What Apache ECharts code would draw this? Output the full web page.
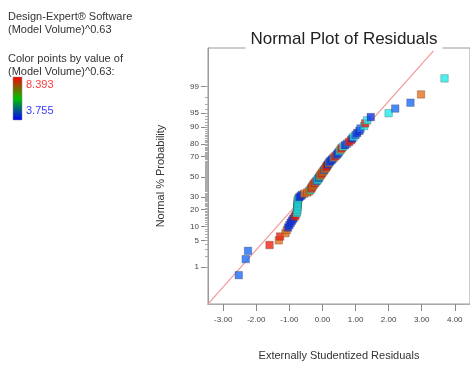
<!DOCTYPE html>
<html lang="en">
<head>
  <meta charset="UTF-8">
  <title>Normal Plot of Residuals</title>
  <style>
    html, body { margin: 0; padding: 0; background: #fff; }
    #chart { width: 470px; height: 366px; }
  </style>
</head>
<body>
  <div id="chart"></div>
  <script src="https://cdn.jsdelivr.net/npm/echarts@6/dist/echarts.min.js"></script>
  <script>
  // externally studentized residuals, sorted
  var resid = [
    -2.53, -2.32, -2.25, -1.60, -1.32, -1.28, -1.12, -1.08, -1.04, -1.00,
    -0.96, -0.92, -0.88, -0.84, -0.81, -0.78, -0.77, -0.76, -0.76, -0.76,
    -0.75, -0.75, -0.75, -0.75, -0.74, -0.73, -0.70, -0.66, -0.62, -0.55,
    -0.46, -0.41, -0.37, -0.35, -0.33, -0.31, -0.29, -0.27, -0.24, -0.21,
    -0.18, -0.15, -0.13, -0.11, -0.09, -0.07, -0.05, -0.02, 0.00, 0.03,
    0.05, 0.07, 0.10, 0.12, 0.14, 0.16, 0.19, 0.21, 0.24, 0.28,
    0.31, 0.35, 0.39, 0.43, 0.46, 0.49, 0.52, 0.55, 0.58, 0.62,
    0.68, 0.74, 0.80, 0.86, 0.90, 0.94, 1.00, 1.05, 1.12, 1.15,
    1.26, 1.29, 1.35, 1.46, 2.00, 2.20, 2.66, 2.98, 3.69
  ];
  // normal % probability of each point
  var prob = [
    0.56, 1.69, 2.81, 3.93, 5.06, 6.18, 7.30, 8.43, 9.55, 10.67,
    11.80, 12.92, 14.04, 15.17, 16.29, 17.42, 18.54, 19.66, 20.79, 21.91,
    23.03, 24.16, 25.28, 26.40, 27.53, 28.65, 29.78, 30.90, 32.02, 33.15,
    34.27, 35.39, 36.52, 37.64, 38.76, 39.89, 41.01, 42.13, 43.26, 44.38,
    45.51, 46.63, 47.75, 48.88, 50.00, 51.12, 52.25, 53.37, 54.49, 55.62,
    56.74, 57.87, 58.99, 60.11, 61.24, 62.36, 63.48, 64.61, 65.73, 66.85,
    67.98, 69.10, 70.22, 71.35, 72.47, 73.60, 74.72, 75.84, 76.97, 78.09,
    79.21, 80.34, 81.46, 82.58, 83.71, 84.83, 85.96, 87.08, 88.20, 89.33,
    90.45, 91.57, 92.70, 93.82, 94.94, 96.07, 97.19, 98.31, 99.44
  ];
  // colour group of each point (B dark blue, b blue, c cyan, o orange, r red)
  var grp = [
    'b', 'b', 'b', 'r', 'o', 'r', 'o', 'o', 'B', 'B',
    'B', 'B', 'B', 'r', 'r', 'c', 'c', 'c', 'c', 'c',
    'c', 'c', 'c', 'c', 'c', 'c', 'B', 'B', 'B', 'o',
    'o', 'o', 'c', 'o', 'r', 'o', 'o', 'o', 'r', 'o',
    'b', 'c', 'c', 'B', 'c', 'o', 'o', 'r', 'o', 'o',
    'b', 'o', 'o', 'r', 'r', 'B', 'o', 'b', 'B', 'B',
    'b', 'o', 'r', 'b', 'B', 'b', 'c', 'o', 'r', 'c',
    'B', 'b', 'r', 'r', 'B', 'c', 'b', 'B', 'B', 'b',
    'c', 'r', 'c', 'B', 'c', 'b', 'b', 'o', 'c'
  ];
  // reference line end points
  var lineRes = [-3.6, 3.6];
  var lineProb = [0.032, 99.975];
  // axis labels
  var xTicks = [-3, -2, -1, 0, 1, 2, 3, 4];
  var yLabels = [1, 5, 10, 20, 30, 50, 70, 80, 90, 95, 99];
  var yMinor = [];
  for (var k = 1; k <= 99; k++) yMinor.push(k);

  var palette = { B: '#1236e6', b: '#1f6cf6', c: '#22eaea', o: '#e6701a', r: '#f22214' };

  // inverse normal cdf (Acklam)
  function probit(p) {
    var a = [-3.969683028665376e+01, 2.209460984245205e+02, -2.759285104469687e+02, 1.383577518672690e+02, -3.066479806614716e+01, 2.506628277459239e+00];
    var b = [-5.447609879822406e+01, 1.615858368580409e+02, -1.556989798598866e+02, 6.680131188771972e+01, -1.328068155288572e+01];
    var c = [-7.784894002430293e-03, -3.223964580411365e-01, -2.400758276684180e+00, -2.549732539343734e+00, 4.374664141464968e+00, 2.938163982698783e+00];
    var d = [7.784695709041462e-03, 3.224671290700398e-01, 2.445134137142996e+00, 3.754408661907416e+00];
    var plow = 0.02425, q, r;
    if (p < plow) {
      q = Math.sqrt(-2 * Math.log(p));
      return (((((c[0]*q+c[1])*q+c[2])*q+c[3])*q+c[4])*q+c[5]) / ((((d[0]*q+d[1])*q+d[2])*q+d[3])*q+1);
    }
    if (p <= 1 - plow) {
      q = p - 0.5; r = q * q;
      return (((((a[0]*r+a[1])*r+a[2])*r+a[3])*r+a[4])*r+a[5])*q / (((((b[0]*r+b[1])*r+b[2])*r+b[3])*r+b[4])*r+1);
    }
    q = Math.sqrt(-2 * Math.log(1 - p));
    return -(((((c[0]*q+c[1])*q+c[2])*q+c[3])*q+c[4])*q+c[5]) / ((((d[0]*q+d[1])*q+d[2])*q+d[3])*q+1);
  }
  function z(pct) { return probit(pct / 100); }

  var points = resid.map(function (x, i) {
    return { value: [x, z(prob[i])], itemStyle: { color: palette[grp[i]] } };
  });
  var refLine = lineRes.map(function (x, i) { return [x, z(lineProb[i])]; });

  var font = 'Liberation Sans';
  var txt = '#333';
  var chart = echarts.init(document.getElementById('chart'));
  chart.setOption({
    animation: false,
    title: {
      text: 'Normal Plot of Residuals',
      left: 339, top: 31, textAlign: 'center',
      backgroundColor: '#fff',
      padding: [0, 5, 3, 5],
      textStyle: { fontFamily: font, fontSize: 17, fontWeight: 'normal', color: '#222' }
    },
    grid: {
      left: 208, right: -2, top: 48, bottom: 58,
      show: true, borderColor: '#9a9a9a', borderWidth: 1
    },
    xAxis: {
      type: 'value', min: -3.46, max: 4.46,
      splitLine: { show: false },
      axisLine: { onZero: false, lineStyle: { color: '#aaa' } },
      axisTick: { customValues: xTicks, length: 7, lineStyle: { color: '#888' } },
      axisLabel: {
        customValues: xTicks, margin: 12,
        fontFamily: font, fontSize: 8, color: '#444',
        formatter: function (v) { return v.toFixed(2); }
      },
      name: 'Externally Studentized Residuals',
      nameLocation: 'middle', nameGap: 46,
      nameTextStyle: { fontFamily: font, fontSize: 11, color: txt }
    },
    yAxis: [{
      type: 'value', min: -3.28, max: 3.32,
      splitLine: { show: false },
      axisLine: { onZero: false, lineStyle: { color: '#9a9a9a' } },
      axisTick: { customValues: yLabels.map(z), length: 7, lineStyle: { color: '#888' } },
      axisLabel: {
        customValues: yLabels.map(z), margin: 9,
        fontFamily: font, fontSize: 8, color: '#444',
        formatter: function (v) {
          for (var i = 0; i < yLabels.length; i++) {
            if (Math.abs(z(yLabels[i]) - v) < 1e-6) return String(yLabels[i]);
          }
          return '';
        }
      },
      name: 'Normal % Probability',
      nameLocation: 'middle', nameGap: 42,
      nameTextStyle: { fontFamily: font, fontSize: 11, color: txt }
    }, {
      type: 'value', min: -3.28, max: 3.32, position: 'left',
      splitLine: { show: false },
      axisLine: { show: false, onZero: false },
      axisTick: { customValues: yMinor.map(z), length: 3, lineStyle: { color: '#aaa' } },
      axisLabel: { show: false }
    }],
    graphic: [
      { type: 'text', left: 8, top: 10, style: { text: 'Design-Expert\u00ae Software\n(Model Volume)^0.63', font: '11px "Liberation Sans"', fill: txt, lineHeight: 13 } },
      { type: 'text', left: 8, top: 52, style: { text: 'Color points by value of\n(Model Volume)^0.63:', font: '11px "Liberation Sans"', fill: txt, lineHeight: 13 } },
      {
        type: 'rect', shape: { x: 13, y: 77, width: 9, height: 43 },
        style: {
          stroke: '#888', lineWidth: 0.5,
          fill: new echarts.graphic.LinearGradient(0, 0, 0, 1, [
            { offset: 0, color: '#ff0000' },
            { offset: 0.5, color: '#00c000' },
            { offset: 1, color: '#0000ff' }
          ])
        }
      },
      { type: 'text', left: 26, top: 79, style: { text: '8.393', font: '11px "Liberation Sans"', fill: '#ff3b3b' } },
      { type: 'text', left: 26, top: 105, style: { text: '3.755', font: '11px "Liberation Sans"', fill: '#3b3bff' } }
    ],
    series: [{
      type: 'line',
      data: refLine,
      symbol: 'none',
      clip: true,
      lineStyle: { color: '#f49a9a', width: 1.2 },
      z: 1
    }, {
      type: 'scatter',
      data: points,
      symbol: 'rect',
      symbolSize: 7.5,
      itemStyle: { borderColor: 'rgba(40,40,40,0.55)', borderWidth: 0.6 },
      z: 2
    }]
  });
  </script>
</body>
</html>
